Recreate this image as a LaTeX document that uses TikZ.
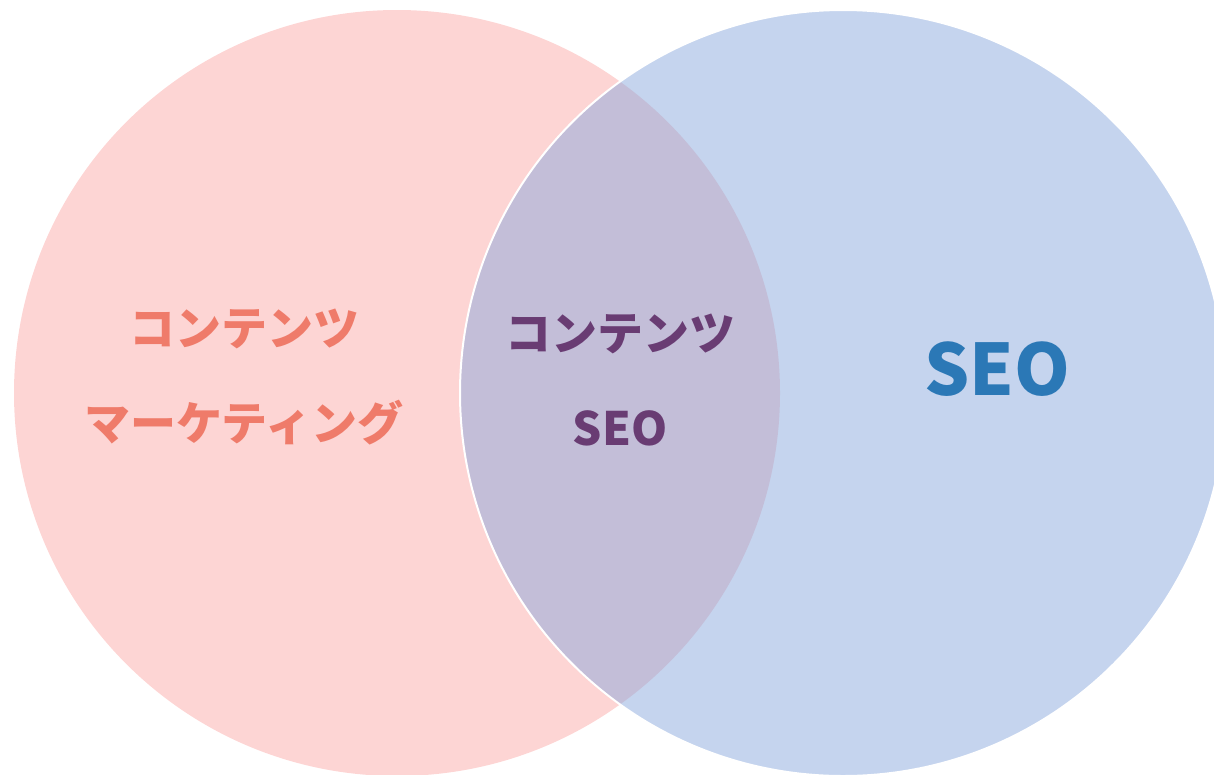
\documentclass[tikz,border=0pt]{standalone}
\usepackage{fontspec}
\usepackage{xcolor}
\usepackage{tikz}
\usetikzlibrary{positioning}
\newfontfamily\jpfont{Noto Sans CJK JP}
\definecolor{mktfill}{HTML}{FDD5D4}
\definecolor{seofill}{HTML}{8BA9DD}
\definecolor{mkttext}{HTML}{EF7B6A}
\definecolor{midtext}{HTML}{693C73}
\definecolor{seotext}{HTML}{2B78B6}

\begin{document}
\begin{tikzpicture}[
        x=1pt, y=-1pt,
        venn/.style={circle, inner sep=0pt, minimum size=766pt},
        label/.style={align=center, font=\jpfont\bfseries\fontsize{46}{95}\selectfont, inner sep=0pt}
    ]
    \useasboundingbox (0,0) rectangle (1214,774);

        % ===== 円 =====
        \node (mkt) [venn, fill=mktfill] at (397,393) {};
        \node (seo) [venn, fill=seofill, fill opacity=0.5, draw=white, line width=2pt] at (843,393) {};

        % ===== 文字 =====
        \node (mktlabel) [label, text=mkttext] at (244,377) {コンテンツ\\マーケティング};
        \node (midlabel) [label, text=midtext] at (620,380) {コンテンツ\\SEO};
        \node (seolabel) [label, text=seotext, font=\jpfont\bfseries\fontsize{71}{80}\selectfont] at (997,369) {SEO};

    \end{tikzpicture}
\end{document}
